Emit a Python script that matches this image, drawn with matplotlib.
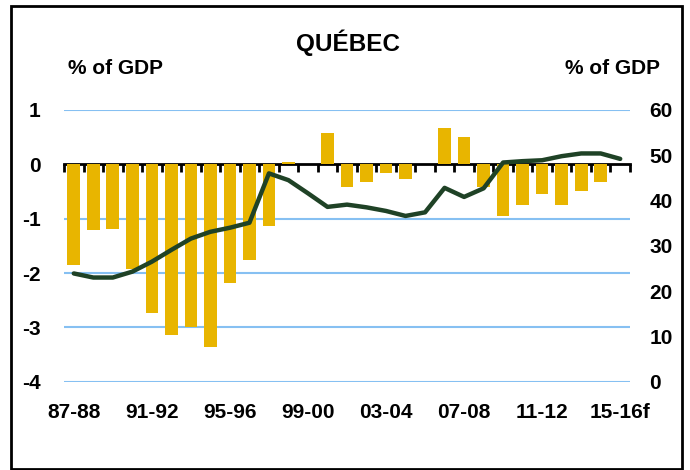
import numpy as np
import matplotlib
matplotlib.use("Agg")
import matplotlib.pyplot as plt
from matplotlib.patches import Rectangle

plt.rcParams["font.family"] = ["Liberation Sans", "DejaVu Sans"]
plt.rcParams["font.weight"] = "bold"

# Fiscal years 87-88 .. 15-16f
years = [f"{y % 100:02d}-{(y + 1) % 100:02d}" for y in range(1987, 2016)]
years[-1] = years[-1] + "f"

# Budget balance, % of GDP (left axis)
balance = [-1.85, -1.21, -1.19, -1.93, -2.74, -3.15, -3.00, -3.36, -2.19, -1.76,
           -1.13, 0.04, 0.0, 0.57, -0.41, -0.32, -0.16, -0.27, 0.0, 0.66,
           0.51, -0.42, -0.96, -0.75, -0.54, -0.74, -0.50, -0.33, 0.0]

# Debt, % of GDP (right axis)
debt = [23.9, 23.0, 23.0, 24.3, 26.5, 29.1, 31.6, 33.1, 34.0, 35.1,
        46.0, 44.5, 41.6, 38.6, 39.1, 38.5, 37.7, 36.6, 37.4, 42.8,
        40.8, 42.7, 48.4, 48.7, 48.9, 49.8, 50.4, 50.4, 49.2]

label_every = 4

x = np.arange(len(years))

fig = plt.figure(figsize=(6.9, 4.7), dpi=100)
ax = fig.add_axes([0.0928, 0.1879, 0.8202, 0.5781])

ax.bar(x, balance, width=0.65, color="#E8B500", zorder=2)
ax.set_ylim(-4, 1)
ax.set_xlim(-0.5, len(years) - 0.5)
ax.set_yticks(np.arange(-4, 2, 1))
ax.set_yticklabels([str(v) for v in range(-4, 2)])
for v in range(-4, 2):
    if v != 0:
        ax.axhline(v, color="#86C0F2", lw=1.5, zorder=0)

ax.set_xticks(x[::label_every])
ax.set_xticklabels(years[::label_every])
ax.tick_params(axis="x", length=0, pad=15, labelsize=15)
ax.tick_params(axis="y", length=0, pad=17, labelsize=15)
for s in ax.spines.values():
    s.set_visible(False)

# category axis crossing at zero
sec = ax.secondary_xaxis(0.8)
sec.set_xticks(np.arange(len(years) + 1) - 0.5)
sec.tick_params(axis="x", direction="in", length=6, width=2, labeltop=False,
                labelbottom=False, color="black")
sec.spines["top"].set_linewidth(2)
sec.spines["bottom"].set_linewidth(2)

ax2 = ax.twinx()
ax2.plot(x, debt, color="#1F4226", lw=3.2, solid_capstyle="round", zorder=3)
ax2.set_ylim(0, 60)
ax2.set_yticks(np.arange(0, 70, 10))
ax2.tick_params(axis="y", length=0, pad=14, labelsize=15)
for s in ax2.spines.values():
    s.set_visible(False)

fig.text(0.504, 0.91, "QUÉBEC", ha="center", va="center", fontsize=17.5, fontweight="bold")
fig.text(0.167, 0.855, "% of GDP", ha="center", va="center", fontsize=15, fontweight="bold")
fig.text(0.888, 0.855, "% of GDP", ha="center", va="center", fontsize=15, fontweight="bold")

fig.patches.append(Rectangle((0.016, 0.003), 0.973, 0.985, transform=fig.transFigure,
                             fill=False, edgecolor="black", lw=2))

fig.savefig("out.png", dpi=100)
